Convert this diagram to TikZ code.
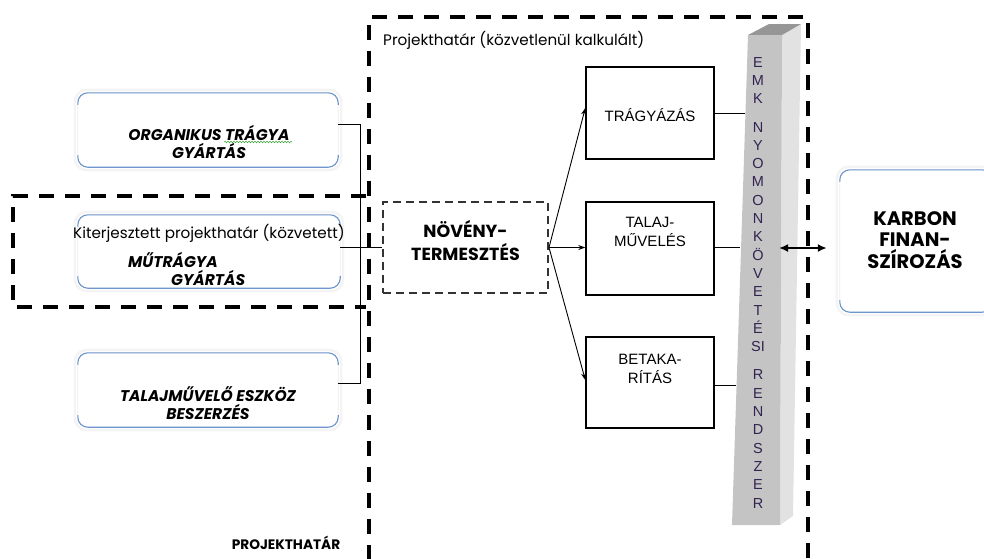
\documentclass[tikz,border=0pt]{standalone}
\usepackage{fontspec}
\setmainfont{Liberation Sans}
\newfontfamily\gothic{Poppins}
\usetikzlibrary{arrows.meta,decorations.pathmorphing}
\definecolor{bevelblue}{RGB}{110,150,205}
\definecolor{pillarfront}{RGB}{196,196,196}
\definecolor{pillarside}{RGB}{226,226,226}
\definecolor{pillartop}{RGB}{150,150,150}
\definecolor{pillartext}{RGB}{50,35,80}
\definecolor{spellgreen}{RGB}{60,160,60}
\newcommand\bevelframe[1]{%
  \draw[gray!9, line width=2.5pt, rounded corners=12pt]
    ([shift={(-3pt,3pt)}]#1.north west) rectangle ([shift={(3pt,-3pt)}]#1.south east);
  \draw[gray!13, line width=0.7pt, rounded corners=10pt]
    (#1.north west) rectangle (#1.south east);
  \draw[bevelblue, line width=1.1pt, rounded corners=10pt]
    ([yshift=-12pt]#1.north west) |- (#1.north) -| ([yshift=-12pt]#1.north east);
  \draw[bevelblue, line width=1.1pt, rounded corners=10pt]
    ([yshift=12pt]#1.south west) |- (#1.south) -| ([yshift=12pt]#1.south east);
}
\begin{document}
\begin{tikzpicture}[x=1pt,y=-1pt,
  boxframe/.style={draw=none, inner sep=0pt, minimum width=#1},
  lefttext/.style={font=\gothic\bfseries\itshape\fontsize{15.5}{18.5}\selectfont, align=center, inner sep=0pt},
  plaintext/.style={font=\gothic\fontsize{15.2}{17}\selectfont, inner sep=0pt},
  stepbox/.style={draw=black, line width=1.4pt, inner sep=0pt, minimum width=128pt, minimum height=#1},
  steptext/.style={font=\fontsize{15}{19}\selectfont, align=center, inner sep=0pt},
  bigdash/.style={line width=3.5pt, dash pattern=on 15pt off 11pt},
  thin/.style={line width=0.9pt},
  arr/.style={thin, -{Stealth[length=7pt,width=5pt]}}
]
\useasboundingbox (0,0) rectangle (984,558);

% ---- left boxes
\node[boxframe=260pt, minimum height=74pt] (o1) at (208,130) {};
\node[boxframe=262pt, minimum height=73pt] (m2) at (209,251.5) {};
\node[boxframe=260pt, minimum height=74pt] (t3) at (208,390) {};
\bevelframe{o1}
\bevelframe{m2}
\bevelframe{t3}
\node[lefttext] (o1t) at (209,142) {ORGANIKUS TRÁGYA\\GYÁRTÁS};
\draw[spellgreen, line width=0.5pt, decorate, decoration={snake, amplitude=0.8pt, segment length=3pt}]
  (224,142) -- (292,142);
\node[lefttext, align=left, anchor=west] (m2t) at (128,269) {MŰTRÁGYA\\\hspace*{43pt}GYÁRTÁS};
\node[lefttext] (t3t) at (208,403) {TALAJMŰVELŐ ESZKÖZ\\BESZERZÉS};
\node[plaintext] (kit) at (209,233) {Kiterjesztett projekthatár (közvetett)};

% ---- boundaries
\draw[bigdash] (366,196) -- (13,196) -- (13,307) -- (366,307);
\draw[bigdash] (369,560) -- (369,17) -- (808,17) -- (808,560);
\node[plaintext, anchor=west] (pht) at (383,40) {Projekthatár (közvetlenül kalkulált)};
\node[font=\gothic\bfseries\fontsize{13.7}{15}\selectfont, inner sep=0pt] (phb) at (286,543) {PROJEKTHATÁR};

% ---- central node
\node[draw=black!80, line width=2pt, dash pattern=on 8pt off 5pt, minimum width=165pt, minimum height=91pt, inner sep=0pt,
  label={[yshift=7pt, align=center, font=\gothic\bfseries\fontsize{17.5}{23}\selectfont]center:NÖVÉNY-\\TERMESZTÉS}]
  (nov) at (465.5,247.5) {};

% ---- step boxes
\node[stepbox=92pt] (tr) at (650,113) {};
\node[steptext] at (650,115) {TRÁGYÁZÁS};
\node[stepbox=93pt] (ta) at (650,248.5) {};
\node[steptext] at (650,232) {TALAJ-\\MŰVELÉS};
\node[stepbox=91pt] (be) at (650,382.5) {};
\node[steptext] at (650,368.5) {BETAKA-\\RÍTÁS};

% ---- pillar
\fill[pillarside] (782,35) -- (801,24) -- (793,516) -- (780,525) -- cycle;
\fill[pillartop] (748,35) -- (769,24) -- (801,24) -- (782,35) -- cycle;
\fill[pillarfront] (748,35) -- (782,35) -- (780,525) -- (732,525) -- cycle;
\node[font=\fontsize{14.5}{18.3}\selectfont, text=pillartext, align=center, inner sep=0pt, anchor=north] (emk) at (758,57)
  {E\\M\\K\\[10pt]N\\Y\\O\\M\\O\\N\\K\\Ö\\V\\E\\T\\É\\SI\\[10pt]R\\E\\N\\D\\S\\Z\\E\\R};
\coordinate (pA) at (744.5,113);
\coordinate (pB) at (740.3,247);
\coordinate (pC) at (736,385);
\coordinate (pR) at (779,248);

% ---- karbon
\node[boxframe=152pt, minimum height=142pt] (kar) at (916,241) {};
\bevelframe{kar}
\node[font=\gothic\bfseries\fontsize{19.5}{21.5}\selectfont, align=center, inner sep=0pt] (kart) at (915,240) {KARBON\\FINAN-\\SZÍROZÁS};

% ---- connectors
\draw[thin] (o1.east |- 0,124) -| (360,383) -- (t3.east |- 0,383);
\draw[thin] (m2.east |- 0,247) -- (nov.west |- 0,247);
\draw[arr] (nov.east) -- (tr.west |- 0,108);
\draw[arr] (nov.east) -- (ta.west |- nov.east);
\draw[arr] (nov.east) -- (be.west |- 0,380);
\draw[thin] (tr.east) -- (pA);
\draw[thin] (ta.east |- pB) -- (pB);
\draw[thin] (be.east |- pC) -- (pC);
\draw[line width=2pt, {Latex[length=9pt,width=8pt]}-{Latex[length=9pt,width=8pt]}] (pR) -- ([xshift=-13pt]kar.west |- pR);
\end{tikzpicture}
\end{document}
